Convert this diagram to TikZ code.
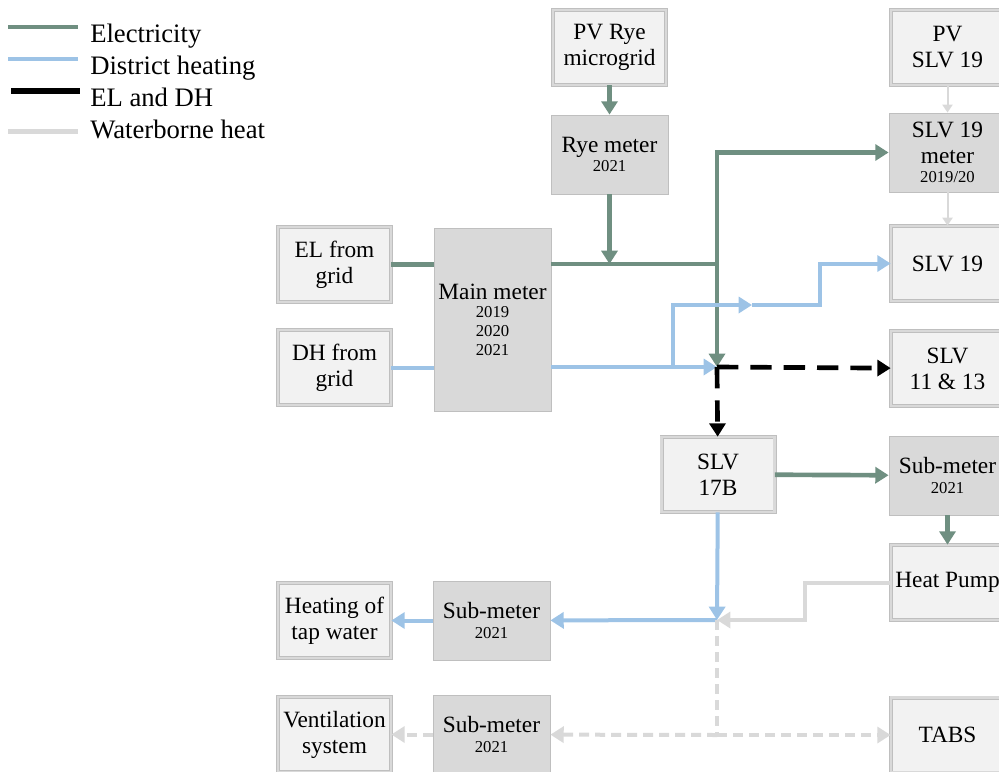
\documentclass[tikz,border=0pt]{standalone}
\usepackage{fontspec}
\setmainfont{Liberation Serif}
\newfontfamily\timesfont{Liberation Serif}
\usetikzlibrary{arrows.meta, positioning}
\definecolor{elgreen}{RGB}{111,143,129}
\definecolor{dhblue}{RGB}{157,195,230}
\definecolor{wbgray}{RGB}{217,217,217}
\definecolor{boxfill}{RGB}{242,242,242}
\definecolor{boxband}{RGB}{217,217,217}
\definecolor{meterfill}{RGB}{217,217,217}
\definecolor{meteredge}{RGB}{191,191,191}
\newcommand{\boxfont}{\timesfont\fontsize{17.5}{19.5}\selectfont}
\newcommand{\keyfont}{\timesfont\fontsize{20}{22}\selectfont}
\newcommand{\yr}[1]{{\fontsize{12.5}{13.5}\selectfont #1}}
\tikzset{
    box/.style    ={draw=meteredge, line width=0.5pt, double=boxband,
                    double distance=2pt, fill=boxfill,
                    minimum width=84.75pt, minimum height=56.25pt,
                    align=center, inner sep=1pt, font=\boxfont},
    meter/.style  ={draw=meteredge, line width=0.6pt, fill=meterfill,
                    minimum width=87.75pt, minimum height=59.25pt,
                    align=center, inner sep=1pt, font=\boxfont},
    el/.style     ={draw=elgreen, line width=3.5pt},
    dh/.style     ={draw=dhblue, line width=3pt},
    eldh/.style   ={draw=black, line width=3.5pt, dash pattern=on 16pt off 9pt},
    wb/.style     ={draw=wbgray, line width=3pt},
    wbthin/.style ={draw=wbgray, line width=1.5pt},
    wbdash/.style ={wb, dash pattern=on 7.5pt off 4.5pt},
    tip/.style    ={-{Triangle[length=10pt, width=12pt]}},
    smalltip/.style={-{Triangle[length=6pt, width=7.5pt]}},
    key/.style    ={anchor=base west, inner sep=0pt, font=\keyfont}
}

\begin{document}
\begin{tikzpicture}[x=0.75pt, y=-0.75pt]
  \useasboundingbox (0,0) rectangle (999,771);

  % ---- legend
  \coordinate (k1a) at (8,27);   \coordinate (k1b) at (78,27);
  \coordinate (k2a) at (8,59);   \coordinate (k2b) at (78,59);
  \coordinate (k3a) at (11,91);  \coordinate (k3b) at (80,91);
  \coordinate (k4a) at (8,131);  \coordinate (k4b) at (78,131);
  \draw[el]   (k1a) -- (k1b);
  \draw[dh]   (k2a) -- (k2b);
  \draw[draw=black, line width=4pt] (k3a) -- (k3b);
  \draw[wb, line width=3.75pt] (k4a) -- (k4b);
  \node[key] (kel) at (90,42)  {Electricity};
  \node[key] (kdh) at (90,74)  {District heating};
  \node[key] (kmx) at (90,106) {EL and DH};
  \node[key] (kwb) at (90,138) {Waterborne heat};

  % ---- supply side
  \node[box]   (elgrid) at (334.5,264.5) {EL from\\grid};
  \node[box]   (dhgrid) at (334.5,367.5) {DH from\\grid};
  \node[meter, minimum height=137.25pt] (mainmeter) at (492.5,319.5)
       {Main meter\\[-5.5pt]\yr{2019}\\[-5.5pt]\yr{2020}\\[-5.5pt]\yr{2021}};
  \node[box]   (pvrye)     at (609.5,47.5)  {PV Rye\\microgrid};
  \node[meter] (ryemeter)  at (609.5,154.5) {Rye meter\\[-5pt]\yr{2021}};

  % ---- buildings, right column
  \node[box]   (pvslv)      at (947.5,47.5)  {PV\\SLV 19};
  \node[meter] (slvmeter)   at (947.5,152.5) {SLV 19\\meter\\[-5pt]\yr{2019/20}};
  \node[box]   (slvnine)    at (947.5,263.5) {SLV 19};
  \node[box]   (slveleven)  at (947.5,368.5) {SLV\\11 \& 13};
  \node[meter] (submeterel) at (947.5,475.5) {Sub-meter\\[-5pt]\yr{2021}};
  \node[box]   (heatpump)   at (947.5,582.5) {Heat Pump};
  \node[box]   (tabs)       at (947.5,735)   {TABS};

  % ---- SLV 17B and its loads
  \node[box]   (slvseventeen) at (718,474.5)   {SLV\\17B};
  \node[box]   (tapwater)     at (334.5,620.5) {Heating of\\tap water};
  \node[meter] (submetertap)  at (491.5,620.5) {Sub-meter\\[-5pt]\yr{2021}};
  \node[box]   (vent)         at (334.5,734.5) {Ventilation\\system};
  \node[meter] (submetervent) at (491.5,734.5) {Sub-meter\\[-5pt]\yr{2021}};

  % ---- junctions and bends
  \coordinate (jel)    at (717,264);
  \coordinate (jmix)   at (717,367);
  \coordinate (jdh)    at (717,620);
  \coordinate (jwb)    at (717,735);
  \coordinate (dhbend) at (673,367);
  \coordinate (dhmid)  at (752,305);
  \coordinate (dhstep) at (820,305);
  \coordinate (wbstep) at (805,582.5);

  % ---- electricity
  \draw[el, tip] (pvrye) -- (ryemeter);
  \draw[el] (elgrid.east) -- (mainmeter.west |- elgrid.east);
  \draw[el, tip] (mainmeter.east |- jel) -- (jel) -- (jmix);
  \draw[el, tip] (ryemeter) -- (ryemeter |- jel);
  \draw[el, tip] (jel) |- (slvmeter.west);
  \draw[el, tip] (slvseventeen) -- (submeterel);
  \draw[el, tip] (submeterel) -- (heatpump);

  % ---- district heating
  \draw[dh] (dhgrid.east) -- (mainmeter.west |- dhgrid.east);
  \draw[dh, tip] (mainmeter.east |- jmix) -- (jmix);
  \draw[dh, tip] (dhbend) |- (dhmid);
  \draw[dh, tip] (dhmid) -- (dhstep) |- (slvnine.west);
  \draw[dh, tip] (slvseventeen) -- (jdh);
  \draw[dh, tip] (jdh) -- (submetertap);
  \draw[dh, tip] (submetertap) -- (tapwater);

  % ---- waterborne heat
  \draw[wbthin, smalltip] (pvslv) -- (slvmeter);
  \draw[wbthin, smalltip] (slvmeter) -- (slvnine);
  \draw[wb, tip] (heatpump.west) -- (wbstep) |- (jdh);
  \draw[wbdash] (jdh) -- (jwb);
  \draw[wbdash, tip] (jwb) -- (submetervent);
  \draw[wbdash, tip] (jwb) -- (tabs);
  \draw[wbdash, tip] (submetervent) -- (vent);

  % ---- EL and DH
  \draw[eldh, tip] (jmix) -- (slveleven);
  \draw[eldh, tip] (jmix) -- (slvseventeen);
\end{tikzpicture}
\end{document}
